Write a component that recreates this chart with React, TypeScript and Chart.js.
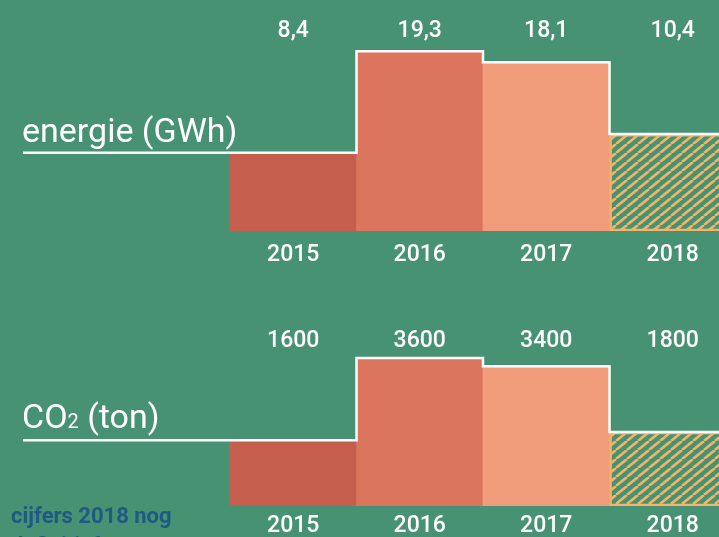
import React, { useEffect, useRef } from 'react';
import { Chart, registerables } from 'chart.js';

Chart.register(...registerables);

// ---- data ----
const years = ['2015', '2016', '2017', '2018'];
const energyGWh = [8.4, 19.3, 18.1, 10.4];
const co2Ton = [1600, 3600, 3400, 1800];
const noteLines = ['cijfers 2018 nog', 'definitief'];

// ---- styles ----
const BG = '#479273';
const BAR_COLORS = ['#c55e4d', '#dc755e', '#f09b7a'];
const HATCH = '#f3b468';
const NOTE_COLOR = '#1f5a82';
const FONT = 'Roboto, "Noto Sans", sans-serif';
const LINE_START_X = 23;
const CANVAS_W = 740;

function makePattern(): CanvasPattern | string {
  const c = document.createElement('canvas');
  const w = 11;
  const h = 9;
  c.width = w;
  c.height = h;
  const g = c.getContext('2d');
  if (!g) return HATCH;
  g.strokeStyle = HATCH;
  g.lineWidth = 2.6;
  g.beginPath();
  for (const dx of [-w, 0, w]) {
    g.moveTo(dx, h);
    g.lineTo(dx + w, 0);
  }
  g.stroke();
  return g.createPattern(c, 'repeat') || HATCH;
}

type Part = { text: string; size: number };

type PanelProps = {
  values: number[];
  fmt: (v: number) => string;
  titleParts: Part[];
  top: number;
  height: number;
  axisHeight: number;
  padTop: number;
  yMax: number;
  tickPad: number;
  valueRowY: number;
  titleGap: number;
  note?: string[];
  noteBaseline?: number;
};

function Panel(p: PanelProps) {
  const ref = useRef<HTMLCanvasElement>(null);
  useEffect(() => {
    const canvas = ref.current;
    if (!canvas) return;
    const pattern = makePattern();
    const decor = {
      id: 'decor',
      afterDatasetsDraw(chart: any) {
        const ctx: CanvasRenderingContext2D = chart.ctx;
        const bars = chart.getDatasetMeta(0).data as any[];
        ctx.save();
        // step line over the bars, extended left under the title
        ctx.strokeStyle = '#ffffff';
        ctx.lineWidth = 2.5;
        ctx.lineJoin = 'miter';
        ctx.beginPath();
        ctx.moveTo(LINE_START_X, bars[0].y);
        bars.forEach((b) => {
          const l = b.x - b.width / 2;
          const r = b.x + b.width / 2;
          ctx.lineTo(l, b.y);
          ctx.lineTo(r, b.y);
        });
        ctx.lineTo(chart.width, bars[bars.length - 1].y);
        ctx.stroke();

        // value labels
        ctx.fillStyle = '#ffffff';
        ctx.font = `500 23px ${FONT}`;
        ctx.textAlign = 'center';
        ctx.textBaseline = 'middle';
        bars.forEach((b, i) => ctx.fillText(p.fmt(p.values[i]), b.x, p.valueRowY));

        // title
        ctx.textAlign = 'left';
        ctx.textBaseline = 'alphabetic';
        let x = LINE_START_X - 1;
        const y = bars[0].y - p.titleGap;
        p.titleParts.forEach((part) => {
          ctx.font = `${part.size}px ${FONT}`;
          ctx.fillText(part.text, x, y);
          x += ctx.measureText(part.text).width;
        });

        // note
        if (p.note && p.noteBaseline !== undefined) {
          ctx.fillStyle = NOTE_COLOR;
          ctx.font = `bold 22px ${FONT}`;
          p.note.forEach((line, i) => ctx.fillText(line, 11, (p.noteBaseline as number) + i * 30));
        }
        ctx.restore();
      },
    };

    const chart = new Chart(canvas, {
      type: 'bar',
      data: {
        labels: years,
        datasets: [
          {
            data: p.values,
            backgroundColor: [...BAR_COLORS, pattern] as any,
            borderColor: ['rgba(0,0,0,0)', 'rgba(0,0,0,0)', 'rgba(0,0,0,0)', HATCH],
            borderWidth: [0, 0, 0, 2],
            borderSkipped: false,
            barPercentage: 1,
            categoryPercentage: 1,
          },
        ],
      },
      options: {
        animation: false,
        responsive: false,
        events: [],
        layout: { padding: { top: p.padTop, left: 230, right: 4, bottom: 0 } },
        plugins: { legend: { display: false }, tooltip: { enabled: false } },
        scales: {
          x: {
            offset: true,
            grid: { display: false, drawTicks: false },
            border: { display: false },
            ticks: {
              color: '#ffffff',
              font: { family: FONT, size: 23, weight: '500' },
              padding: p.tickPad,
              maxRotation: 0,
              autoSkip: false,
            },
            afterFit: (s: any) => {
              s.height = p.axisHeight;
            },
          },
          y: { display: false, min: 0, max: p.yMax },
        },
      },
      plugins: [decor],
    } as any);
    return () => chart.destroy();
  }, []);
  return (
    <canvas
      ref={ref}
      width={CANVAS_W}
      height={p.height}
      style={{ position: 'absolute', left: 0, top: p.top, width: CANVAS_W, height: p.height }}
    />
  );
}

export default function App() {
  return (
    <div
      style={{
        position: 'absolute',
        left: 0,
        top: 0,
        width: 719,
        height: 537,
        overflow: 'hidden',
        background: BG,
      }}
    >
      <Panel
        values={energyGWh}
        fmt={(v) => v.toFixed(1).replace('.', ',')}
        titleParts={[{ text: 'energie (GWh)', size: 34 }]}
        top={0}
        height={270}
        axisHeight={39}
        padTop={40}
        yMax={20.5}
        tickPad={10}
        valueRowY={31}
        titleGap={11}
      />
      <Panel
        values={co2Ton}
        fmt={(v) => String(v)}
        titleParts={[
          { text: 'CO', size: 34 },
          { text: '2', size: 20 },
          { text: ' (ton)', size: 34 },
        ]}
        top={270}
        height={290}
        axisHeight={54}
        padTop={70}
        yMax={4040}
        tickPad={6}
        valueRowY={71}
        titleGap={12}
        note={noteLines}
        noteBaseline={253}
      />
    </div>
  );
}
